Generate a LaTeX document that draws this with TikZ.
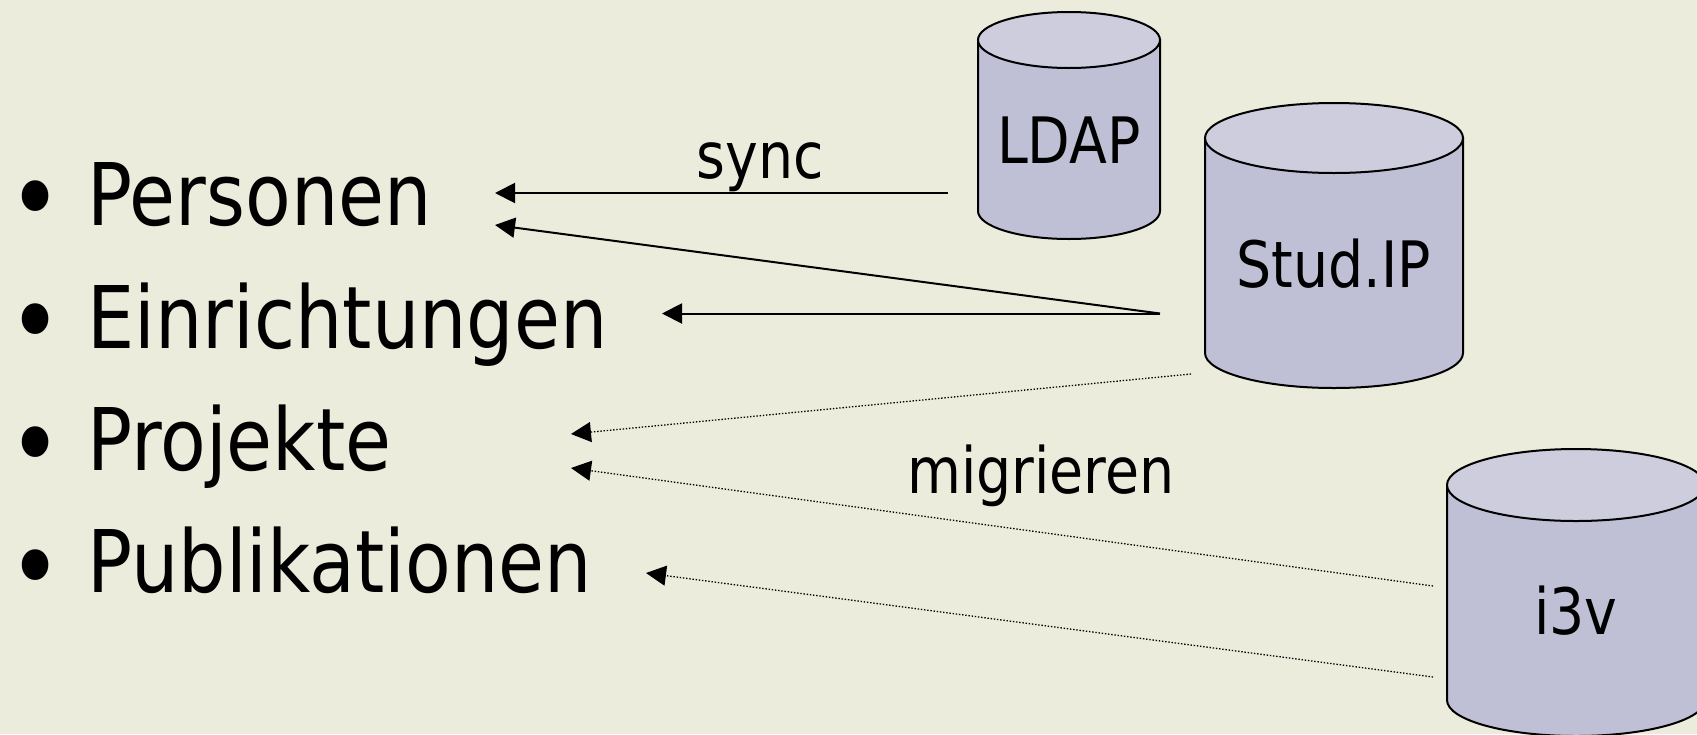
\documentclass[tikz,border=0pt]{standalone}
\usepackage{fontspec}
\setmainfont{DejaVu Sans}[FakeStretch=0.865]
\usetikzlibrary{arrows.meta}
\definecolor{slidebg}{RGB}{236,236,221}
\definecolor{dbtopfill}{RGB}{205,205,222}
\definecolor{dbsidefill}{RGB}{191,191,214}

\begin{document}
\begin{tikzpicture}[x=0.5pt, y=-0.5pt,
    item/.style={anchor=base west, inner sep=0pt, font=\fontsize{43.2}{50}\selectfont},
    itemdot/.style={anchor=center, inner sep=0pt, font=\fontsize{53}{60}\selectfont},
    dblabel/.style={anchor=base, inner sep=0pt, font=\fontsize{32}{38}\selectfont},
    dbside/.style={fill=dbsidefill, draw=black, line width=1pt},
    dbtop/.style={fill=dbtopfill, draw=black, line width=1pt},
    feed/.style={line width=1pt, -{Triangle[length=10pt, width=10pt]}},
    migrate/.style={line width=0.65pt, dash pattern=on 0.7pt off 0.9pt, -{Triangle[length=10pt, width=10pt]}}]
    \fill[slidebg] (0, 0) rectangle (1697, 734);
    \useasboundingbox (0, 0) rectangle (1697, 734);

    % list
    \node[itemdot] (personen-dot) at (36, 208) {•};
    \node[item] (personen) at (87, 225) {Personen};
    \node[itemdot] (einrichtungen-dot) at (36, 331) {•};
    \node[item] (einrichtungen) at (87, 348) {Einrichtungen};
    \node[itemdot] (projekte-dot) at (36, 454) {•};
    \node[item] (projekte) at (87, 470) {Projekte};
    \node[itemdot] (publikationen-dot) at (36, 577) {•};
    \node[item] (publikationen) at (87, 592) {Publikationen};

    % databases
    \draw[dbside] (978, 40) -- (978, 211) arc[start angle=180, end angle=0, x radius=91, y radius=28] -- (1160, 40) -- cycle;
    \draw[dbtop] (1069, 40) ellipse [x radius=91, y radius=28];
    \node[dblabel] (ldap) at (1069, 163) {LDAP};
    \draw[dbside] (1205, 138) -- (1205, 353) arc[start angle=180, end angle=0, x radius=129, y radius=35] -- (1463, 138) -- cycle;
    \draw[dbtop] (1334, 138) ellipse [x radius=129, y radius=35];
    \node[dblabel] (studip) at (1334, 287) {Stud.IP};
    \draw[dbside] (1447, 485) -- (1447, 700) arc[start angle=180, end angle=0, x radius=129, y radius=36] -- (1705, 485) -- cycle;
    \draw[dbtop] (1576, 485) ellipse [x radius=129, y radius=36];
    \node[dblabel] (ithreev) at (1576, 634) {i3v};

    % connector ends
    \coordinate (ldap-out) at (948, 193);
    \coordinate (studip-out) at (1160, 313.5);
    \coordinate (studip-dots) at (1191, 374);
    \coordinate (ithreev-out1) at (1433, 586);
    \coordinate (ithreev-out2) at (1433, 677);
    \coordinate (personen-in1) at (495, 193);
    \coordinate (personen-in2) at (495, 225);
    \coordinate (einrichtungen-in) at (662, 313.5);
    \coordinate (projekte-in1) at (571, 434);
    \coordinate (projekte-in2) at (571, 468);
    \coordinate (publikationen-in) at (646, 573);

    \draw[feed] (ldap-out) -- (personen-in1);
    \draw[feed] (studip-out) -- (personen-in2);
    \draw[feed] (studip-out) -- (einrichtungen-in);
    \draw[migrate] (studip-dots) -- (projekte-in1);
    \draw[migrate] (ithreev-out1) -- (projekte-in2);
    \draw[migrate] (ithreev-out2) -- (publikationen-in);

    \node[dblabel] (sync) at (760, 178) {sync};
    \node[dblabel] (migrieren) at (1041, 493) {migrieren};
  \end{tikzpicture}
\end{document}
